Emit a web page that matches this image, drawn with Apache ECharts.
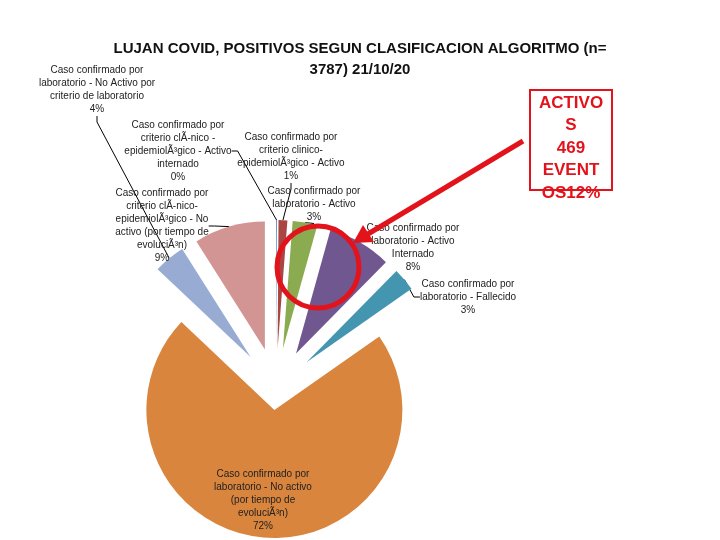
<!DOCTYPE html>
<html>
<head>
<meta charset="utf-8">
<script src="https://cdn.jsdelivr.net/npm/echarts@6/dist/echarts.min.js"></script>
<style>
  html, body { margin: 0; padding: 0; background: #fff; }
  #main { width: 720px; height: 540px; }
</style>
</head>
<body>
<div id="main"></div>
<script>
// categories as shown (encoding glitches kept as in the picture)
var categories = [
  'Caso confirmado por\ncriterio clÃ-nico -\nepidemiolÃ³gico - Activo\ninternado',
  'Caso confirmado por\ncriterio clinico-\nepidemiolÃ³gico - Activo',
  'Caso confirmado por\nlaboratorio - Activo',
  'Caso confirmado por\nlaboratorio - Activo\nInternado',
  'Caso confirmado por\nlaboratorio - Fallecido',
  'Caso confirmado por\nlaboratorio - No activo\n(por tiempo de\nevoluciÃ³n)',
  'Caso confirmado por\nlaboratorio - No Activo por\ncriterio de laboratorio',
  'Caso confirmado por\ncriterio clÃ-nico-\nepidemiolÃ³gico - No\nactivo (por tiempo de\nevoluciÃ³n)'
];
var values = [4, 42, 118, 305, 110, 2718, 150, 340];
var colors = ['#4f81bd', '#a94643', '#8bab50', '#71578f', '#4496b0', '#d9853d', '#97abd3', '#d39494'];
var bigIndex = 5;

// label anchor points (layout only)
var labelPos = [
  [178, 151], [291, 157], [314, 204], [413, 248],
  [468, 297], [263, 500], [97, 90], [162, 226]
];

var center = [276, 388];
var radius = 128;
var explodeSmall = 40, explodeBig = 22;

var total = values.reduce(function (a, b) { return a + b; }, 0);

// each slice is its own pie, shifted out along its bisector
var series = [];
var acc = 0;
values.forEach(function (v, i) {
  var mid = (acc + v / 2) / total * Math.PI * 2;
  acc += v;
  var d = i === bigIndex ? explodeBig : explodeSmall;
  var c = [center[0] + d * Math.sin(mid), center[1] - d * Math.cos(mid)];
  series.push({
    type: 'pie',
    center: c,
    radius: radius,
    startAngle: 90,
    avoidLabelOverlap: false,
    emphasis: { disabled: true },
    label: {
      position: i === bigIndex ? 'inside' : 'outside',
      color: '#222',
      fontFamily: 'Liberation Sans',
      fontSize: 10,
      lineHeight: 13,
      align: 'center',
      formatter: function (p) { return p.name + '\n' + Math.round(p.percent) + '%'; }
    },
    labelLine: { length: 6, length2: 6, lineStyle: { color: '#000', width: 1 } },
    labelLayout: function (p) {
      var pos = labelPos[p.dataIndex];
      return { x: pos[0], y: pos[1], align: 'center', verticalAlign: 'middle' };
    },
    data: categories.map(function (name, j) {
      var on = j === i;
      return {
        name: name,
        value: values[j],
        itemStyle: { color: colors[j], opacity: on ? 1 : 0 },
        label: { show: on },
        labelLine: { show: on && j !== bigIndex }
      };
    })
  });
});

var chart = echarts.init(document.getElementById('main'));
chart.setOption({
  backgroundColor: '#fff',
  animation: false,
  title: {
    text: 'LUJAN COVID, POSITIVOS SEGUN CLASIFICACION ALGORITMO (n=\n3787) 21/10/20',
    left: 'center',
    top: 33,
    textStyle: {
      fontFamily: 'Liberation Sans',
      fontWeight: 'bold',
      fontSize: 15,
      lineHeight: 21,
      color: '#111'
    }
  },
  series: series,
  graphic: [
    {
      type: 'rect', z: 100,
      shape: { x: 530, y: 90, width: 82, height: 100 },
      style: { fill: null, stroke: '#e3131b', lineWidth: 2 }
    },
    {
      type: 'text', z: 100,
      x: 571, y: 148,
      style: {
        text: 'ACTIVO\nS\n469\nEVENT\nOS12%',
        fill: '#e3131b',
        font: 'bold 17px "Liberation Sans"',
        lineHeight: 22.5,
        textAlign: 'center',
        textVerticalAlign: 'middle'
      }
    },
    {
      type: 'circle', z: 100,
      shape: { cx: 318, cy: 267, r: 41 },
      style: { fill: null, stroke: '#e3131b', lineWidth: 5 }
    },
    {
      type: 'line', z: 100,
      shape: { x1: 523, y1: 141, x2: 368, y2: 234 },
      style: { stroke: '#e3131b', lineWidth: 5 }
    },
    {
      type: 'polygon', z: 100,
      shape: { points: [[353, 243], [374, 242], [363, 225]] },
      style: { fill: '#e3131b' }
    }
  ]
});
</script>
</body>
</html>
